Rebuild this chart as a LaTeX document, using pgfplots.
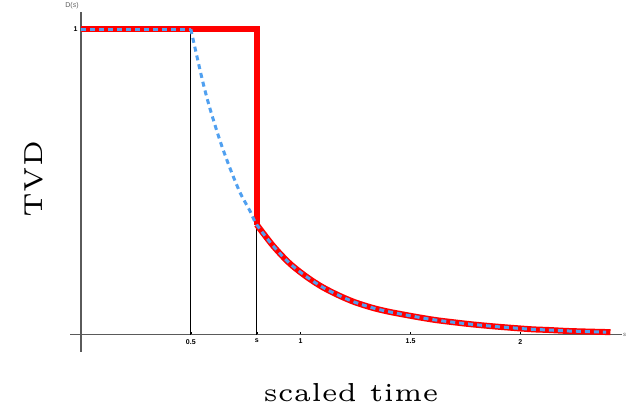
\documentclass[border=0pt]{standalone}
\usepackage{fontspec}
\newfontfamily\tickfont{Liberation Sans}
\newfontfamily\lmfive{lmroman5-regular.otf}
\usepackage{pgfplots}
\pgfplotsset{compat=1.18}
\usepackage{graphicx}
\definecolor{myblue}{RGB}{80,160,240}
\definecolor{axgray}{RGB}{90,90,90}
\newcommand{\tl}[1]{{\tickfont\bfseries #1}}
\begin{document}
\begin{tikzpicture}[x=1pt,y=1pt]
\path[use as bounding box] (0,0) rectangle (630,406);
\begin{axis}[at={(70pt,54pt)}, anchor=south west, scale only axis,
  width=552pt, height=340pt,
  xmin=-0.05, xmax=2.4625, ymin=-0.057, ymax=1.056,
  axis lines=middle, axis line style={-, axgray, line width=1.6pt},
  xtick={0.5,0.8,1,1.5,2}, xticklabels={\tl{0.5},\tl{s},\tl{1},\tl{1.5},\tl{2}},
  ytick={1}, yticklabels={\tl{1}},
  tick align=inside,
  tick style={black, line width=0.4pt}, major tick length=3pt,
  ticklabel style={font=\fontsize{7}{8}\selectfont},
  xticklabel style={yshift=-1pt},
  clip=false]
\addplot[black, line width=1pt] coordinates {(0.5,0) (0.5,1)};
\addplot[black, line width=1pt] coordinates {(0.8,0) (0.8,0.36)};
\addplot[red, line width=6pt, line join=miter] coordinates {(0,1) (0.8,1) (0.8,0.36)};
\addplot[red, line width=6pt, smooth] coordinates {
(0.8,0.36) (0.875,0.29) (0.95,0.233) (1.027,0.189) (1.1,0.155) (1.18,0.126)
(1.25,0.105) (1.33,0.087) (1.40,0.075) (1.48,0.064) (1.55,0.055) (1.62,0.047)
(1.70,0.040) (1.76,0.035) (1.83,0.030) (1.91,0.025) (2.0,0.020) (2.06,0.017)
(2.13,0.015) (2.21,0.012) (2.3,0.010) (2.41,0.008)};
\addplot[myblue, line width=3pt, dash pattern=on 5pt off 4pt] coordinates {(0,1) (0.5,1)};
\addplot[myblue, line width=3pt, dash pattern=on 5pt off 4pt, smooth] coordinates {
(0.5,1) (0.527,0.913) (0.557,0.82) (0.587,0.74) (0.633,0.634) (0.678,0.545)
(0.724,0.465) (0.769,0.405) (0.8,0.36)
(0.875,0.29) (0.95,0.233) (1.027,0.189) (1.1,0.155) (1.18,0.126)
(1.25,0.105) (1.33,0.087) (1.40,0.075) (1.48,0.064) (1.55,0.055) (1.62,0.047)
(1.70,0.040) (1.76,0.035) (1.83,0.030) (1.91,0.025) (2.0,0.020) (2.06,0.017)
(2.13,0.015) (2.21,0.012) (2.3,0.010) (2.39,0.008)};
\node[anchor=south, text=axgray, font=\tickfont\fontsize{7}{8}\selectfont, inner sep=0pt] at (axis cs:-0.041,1.056) [yshift=3pt] {D(\textit{s})};
\node[anchor=west, text=axgray, font=\tickfont\fontsize{6}{7}\selectfont, inner sep=1pt] at (axis cs:2.4625,0) {\textit{s}};
\end{axis}
\node[anchor=base, rotate=90] at (43,227) {\lmfive\fontsize{5}{6}\selectfont\scalebox{5.2}{TVD}};
\node[anchor=base] at (351,4) {\lmfive\fontsize{5}{6}\selectfont\scalebox{5.2}{scaled time}};
\end{tikzpicture}
\end{document}
